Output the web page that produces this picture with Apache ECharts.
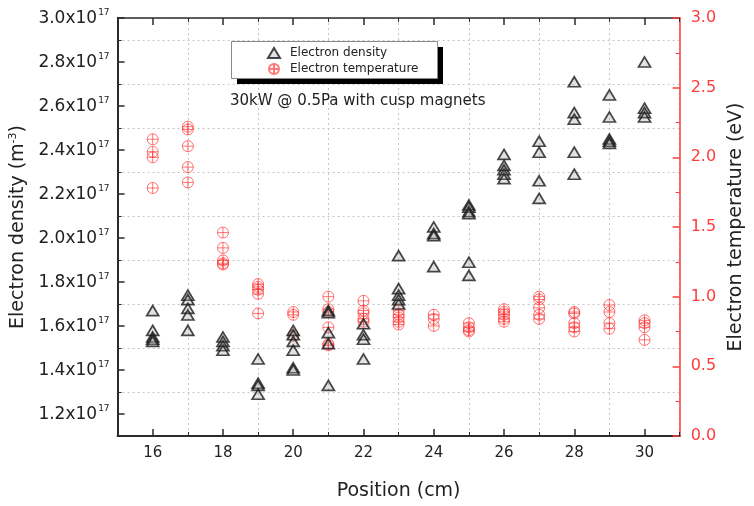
<!DOCTYPE html>
<html>
<head>
<meta charset="utf-8">
<title>Electron density and temperature vs position</title>
<script src="https://cdn.jsdelivr.net/npm/echarts@6/dist/echarts.min.js"></script>
<style>
  html, body { margin: 0; padding: 0; background: #fff; }
  #chart { width: 754px; height: 506px; }
</style>
</head>
<body>
<div id="chart"></div>
<script>
// Probe positions along the chamber (cm)
const positions = [16, 17, 18, 19, 20, 21, 22, 23, 24, 25, 26, 27, 28, 29, 30];

// Electron density at each position, in units of 1e17 m^-3
const densityE17 = [
  [1.67, 1.58, 1.55, 1.54, 1.53],
  [1.74, 1.72, 1.68, 1.65, 1.58],
  [1.55, 1.53, 1.51, 1.49],
  [1.45, 1.34, 1.33, 1.29],
  [1.58, 1.56, 1.53, 1.49, 1.41, 1.40],
  [1.67, 1.66, 1.57, 1.52, 1.33],
  [1.61, 1.56, 1.54, 1.45],
  [1.92, 1.77, 1.74, 1.72, 1.70],
  [2.05, 2.02, 2.01, 1.87],
  [2.15, 2.14, 2.12, 2.11, 1.89, 1.83],
  [2.38, 2.33, 2.31, 2.29, 2.27],
  [2.44, 2.39, 2.26, 2.18],
  [2.71, 2.57, 2.54, 2.39, 2.29],
  [2.65, 2.55, 2.45, 2.44, 2.43],
  [2.80, 2.59, 2.57, 2.55]
];

// Electron temperature at each position (eV)
const temperatureEV = [
  [2.13, 2.04, 2.00, 1.78],
  [2.22, 2.20, 2.08, 1.93, 1.82],
  [1.46, 1.35, 1.26, 1.24, 1.23],
  [1.09, 1.07, 1.05, 1.02, 0.88],
  [0.89, 0.87, 0.72],
  [1.00, 0.91, 0.89, 0.78, 0.66, 0.65],
  [0.97, 0.90, 0.88, 0.84, 0.82],
  [0.90, 0.87, 0.85, 0.82, 0.80],
  [0.87, 0.84, 0.79],
  [0.81, 0.78, 0.76, 0.75],
  [0.91, 0.89, 0.87, 0.84, 0.82],
  [1.00, 0.98, 0.92, 0.87, 0.84],
  [0.89, 0.88, 0.81, 0.78, 0.75],
  [0.94, 0.89, 0.81, 0.77],
  [0.83, 0.81, 0.78, 0.69]
];

// Labelled tick values
const positionTicks = [16, 18, 20, 22, 24, 26, 28, 30];
const densityTicks = [1.2, 1.4, 1.6, 1.8, 2.0, 2.2, 2.4, 2.6, 2.8, 3.0];

const FONT = 'DejaVu Sans';
const RED = '#ff3b3b';
const AXIS_DARK = '#2b2b2b';

function pairs(groups) {
  const out = [];
  groups.forEach((vals, i) => vals.forEach(v => out.push([positions[i], v])));
  return out;
}

// open circle with a cross through it
const CIRCLE_PLUS = 'path://M1,11A10,10,0,1,1,21,11A10,10,0,1,1,1,11ZM11,1L11,21M1,11L21,11';

const chart = echarts.init(document.getElementById('chart'), null, { renderer: 'canvas' });

const gridDotted = { color: '#c6c6c6', type: [2, 3], width: 1 };

// legend frame with a solid drop shadow
const LEGEND_BOX = { x: 231, y: 41, w: 206, h: 37, shadow: 6 };

chart.setOption({
  animation: false,
  backgroundColor: '#fff',
  textStyle: { fontFamily: FONT },
  title: {
    text: '30kW @ 0.5Pa with cusp magnets',
    left: 230,
    top: 94,
    padding: 0,
    textStyle: { fontFamily: FONT, fontSize: 15, fontWeight: 'normal', color: '#222' }
  },
  graphic: [
    {
      type: 'rect', z: 90, silent: true,
      shape: { x: LEGEND_BOX.x + LEGEND_BOX.shadow, y: LEGEND_BOX.y + LEGEND_BOX.shadow, width: LEGEND_BOX.w, height: LEGEND_BOX.h },
      style: { fill: '#000' }
    },
    {
      type: 'rect', z: 91, silent: true,
      shape: { x: LEGEND_BOX.x + 0.5, y: LEGEND_BOX.y + 0.5, width: LEGEND_BOX.w, height: LEGEND_BOX.h },
      style: { fill: '#fff', stroke: '#8a8a8a', lineWidth: 1 }
    }
  ],
  legend: {
    left: LEGEND_BOX.x,
    top: LEGEND_BOX.y,
    z: 100,
    orient: 'vertical',
    padding: [5, 19, 3, 36],
    itemGap: 2,
    itemWidth: 12,
    itemHeight: 10,
    textStyle: { fontFamily: FONT, fontSize: 12, color: '#222', lineHeight: 14, padding: [0, 0, 0, 5] },
    data: ['Electron density', 'Electron temperature']
  },
  grid: { left: 116, right: 69, top: 18, bottom: 68, containLabel: false },
  xAxis: [
    {
      // main position axis: labelled even ticks
      type: 'value', min: 15, max: 31, position: 'bottom',
      name: 'Position (cm)', nameLocation: 'middle', nameGap: 46,
      nameTextStyle: { fontFamily: FONT, fontSize: 19, color: '#222' },
      axisLine: { show: true, lineStyle: { color: AXIS_DARK, width: 2 } },
      axisTick: { show: true, inside: true, length: 7, customValues: positionTicks, lineStyle: { color: AXIS_DARK, width: 1.5 } },
      axisLabel: { show: true, customValues: positionTicks, margin: 10, fontFamily: FONT, fontSize: 15, color: '#222' },
      splitLine: { show: false }
    },
    {
      // odd positions (counted from min 15): short ticks and dotted grid
      type: 'value', min: 15, max: 31, interval: 2, position: 'bottom',
      axisLine: { show: false },
      axisTick: { show: true, inside: true, length: 4, lineStyle: { color: AXIS_DARK, width: 1 } },
      axisLabel: { show: false },
      splitLine: { show: true, lineStyle: gridDotted }
    },
    {
      // top frame with mirrored ticks
      type: 'value', min: 15, max: 31, interval: 2, position: 'top',
      axisLine: { show: true, lineStyle: { color: AXIS_DARK, width: 1.5 } },
      axisTick: { show: true, inside: true, length: 4, lineStyle: { color: AXIS_DARK, width: 1 } },
      axisLabel: { show: false },
      splitLine: { show: false }
    },
    {
      type: 'value', min: 15, max: 31, position: 'top',
      axisLine: { show: false },
      axisTick: { show: true, inside: true, length: 7, customValues: positionTicks, lineStyle: { color: AXIS_DARK, width: 1.5 } },
      axisLabel: { show: false },
      splitLine: { show: false }
    }
  ],
  yAxis: [
    {
      // electron density, labelled every 0.2e17
      type: 'value', min: 1.1, max: 3.0, position: 'left',
      name: 'Electron density (m{sup|-3})', nameLocation: 'middle', nameGap: 86, nameRotate: 90,
      nameTextStyle: {
        fontFamily: FONT, fontSize: 19, color: '#222',
        rich: { sup: { fontFamily: FONT, fontSize: 11, color: '#222', verticalAlign: 'bottom', padding: [0, 0, 9, 0] } }
      },
      axisLine: { show: true, lineStyle: { color: AXIS_DARK, width: 2 } },
      axisTick: { show: true, inside: true, length: 7, customValues: densityTicks, lineStyle: { color: AXIS_DARK, width: 1.5 } },
      axisLabel: {
        show: true, customValues: densityTicks, margin: 8,
        formatter: v => '{m|' + v.toFixed(1) + 'x10}{s|17}',
        rich: {
          m: { fontFamily: FONT, fontSize: 17, color: '#222', verticalAlign: 'bottom' },
          s: { fontFamily: FONT, fontSize: 9, color: '#222', verticalAlign: 'bottom', padding: [0, 0, 10, 1] }
        }
      },
      splitLine: { show: false }
    },
    {
      // odd tenths (counted from min 1.1): short ticks and dotted grid
      type: 'value', min: 1.1, max: 3.0, interval: 0.2, position: 'left',
      axisLine: { show: false },
      axisTick: { show: true, inside: true, length: 4, lineStyle: { color: AXIS_DARK, width: 1 } },
      axisLabel: { show: false },
      splitLine: { show: true, lineStyle: gridDotted }
    },
    {
      // electron temperature (red, right)
      type: 'value', min: 0, max: 3, interval: 0.5, position: 'right',
      name: 'Electron temperature (eV)', nameLocation: 'middle', nameGap: 44, nameRotate: 90,
      nameTextStyle: { fontFamily: FONT, fontSize: 19, color: '#222' },
      axisLine: { show: true, lineStyle: { color: RED, width: 1.5 } },
      axisTick: { show: true, inside: true, length: 7, lineStyle: { color: RED, width: 1.5 } },
      minorTick: { show: true, splitNumber: 2, length: 4, lineStyle: { color: RED, width: 1 } },
      axisLabel: { show: true, margin: 11, fontFamily: FONT, fontSize: 16, color: RED, formatter: v => v.toFixed(1) },
      splitLine: { show: false }
    }
  ],
  series: [
    {
      name: 'Electron density',
      type: 'scatter',
      xAxisIndex: 0, yAxisIndex: 0,
      symbol: 'triangle',
      symbolSize: [12, 10],
      itemStyle: { color: 'rgba(150,150,150,0.35)', borderColor: '#1a1a1a', borderWidth: 1.7 },
      z: 3,
      data: pairs(densityE17)
    },
    {
      name: 'Electron temperature',
      type: 'scatter',
      xAxisIndex: 0, yAxisIndex: 2,
      symbol: CIRCLE_PLUS,
      symbolSize: 11,
      itemStyle: { color: 'rgba(0,0,0,0)', borderColor: 'rgba(255,40,40,0.8)', borderWidth: 1 },
      z: 2,
      data: pairs(temperatureEV)
    }
  ]
});
</script>
</body>
</html>
